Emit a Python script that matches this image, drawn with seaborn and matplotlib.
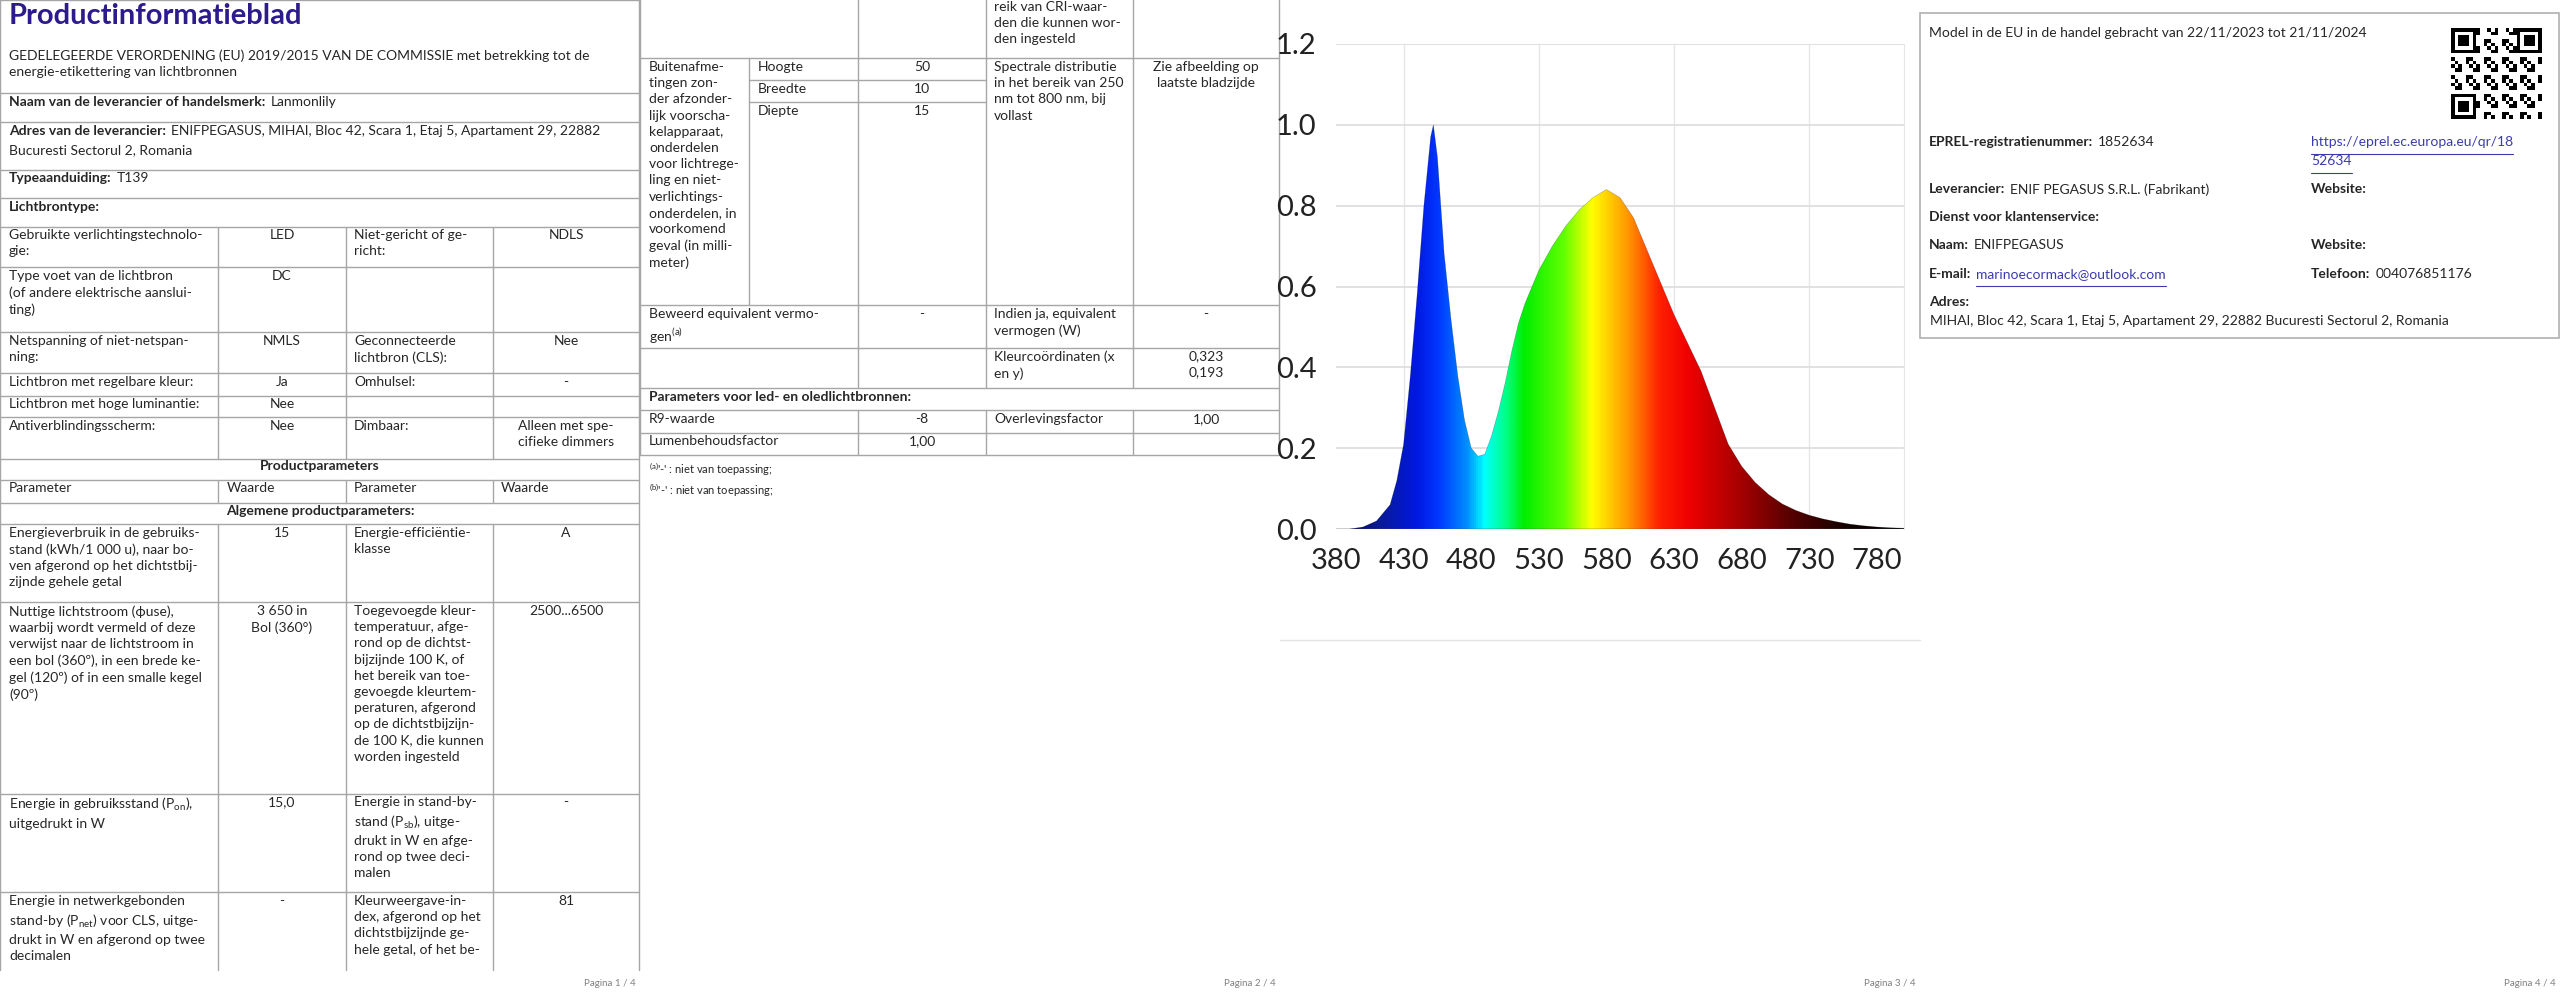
import matplotlib.pyplot as plt
import matplotlib.colors as mcolors
import numpy as np
import seaborn as sns

sns.set_style('white')
plt.rcParams['font.family'] = ['Lato', 'DejaVu Sans']
plt.rcParams['mathtext.fontset'] = 'custom'
plt.rcParams['mathtext.rm'] = 'Lato'

wavelength = [380, 390, 400, 410, 420, 425, 430, 435, 440, 445, 450, 452, 455, 460, 465,
              470, 475, 480, 485, 490, 495, 500, 505, 510, 515, 520, 525, 530, 540, 550,
              560, 570, 580, 590, 600, 610, 620, 630, 640, 650, 660, 670, 680, 690, 700,
              710, 720, 730, 740, 750, 760, 770, 780, 790, 800]
intensity = [0.0, 0.0, 0.005, 0.02, 0.06, 0.12, 0.21, 0.38, 0.58, 0.80, 0.97, 1.0, 0.92, 0.68, 0.52,
             0.38, 0.27, 0.20, 0.18, 0.185, 0.23, 0.29, 0.36, 0.44, 0.51, 0.56, 0.60, 0.64, 0.70, 0.75,
             0.79, 0.82, 0.84, 0.82, 0.77, 0.69, 0.61, 0.53, 0.46, 0.39, 0.30, 0.21, 0.155, 0.115, 0.085,
             0.062, 0.046, 0.034, 0.025, 0.018, 0.012, 0.008, 0.005, 0.003, 0.002]
x_ticks = [380, 430, 480, 530, 580, 630, 680, 730, 780]
y_ticks = [0.0, 0.2, 0.4, 0.6, 0.8, 1.0, 1.2]

# page 1 table
p1_rows = [
    (237, 'Gebruikte verlichtingstechnolo-\ngie:', 'LED', 'Niet-gericht of ge-\nricht:', 'NDLS'),
    (278, 'Type voet van de lichtbron\n(of andere elektrische aanslui-\nting)', 'DC', '', ''),
    (343, 'Netspanning of niet-netspan-\nning:', 'NMLS', 'Geconnecteerde\nlichtbron (CLS):', 'Nee'),
    (384, 'Lichtbron met regelbare kleur:', 'Ja', 'Omhulsel:', '-'),
    (406, 'Lichtbron met hoge luminantie:', 'Nee', '', ''),
    (428, 'Antiverblindingsscherm:', 'Nee', 'Dimbaar:', 'Alleen met spe-\ncifieke dimmers'),
    (535, 'Energieverbruik in de gebruiks-\nstand (kWh/1 000 u), naar bo-\nven afgerond op het dichtstbij-\nzijnde gehele getal',
     '15', 'Energie-efficiëntie-\nklasse', 'A'),
    (613, 'Nuttige lichtstroom (ϕuse),\nwaarbij wordt vermeld of deze\nverwijst naar de lichtstroom in\neen bol (360º), in een brede ke-\ngel (120º) of in een smalle kegel\n(90º)',
     '3 650 in\nBol (360°)',
     'Toegevoegde kleur-\ntemperatuur, afge-\nrond op de dichtst-\nbijzijnde 100 K, of\nhet bereik van toe-\ngevoegde kleurtem-\nperaturen, afgerond\nop de dichtstbijzijn-\nde 100 K, die kunnen\nworden ingesteld',
     '2500...6500'),
    (804, 'Energie in gebruiksstand (P$_{\\rm on}$),\nuitgedrukt in W', '15,0',
     'Energie in stand-by-\nstand (P$_{\\rm sb}$), uitge-\ndrukt in W en afge-\nrond op twee deci-\nmalen', '-'),
    (903, 'Energie in netwerkgebonden\nstand-by (P$_{\\rm net}$) voor CLS, uitge-\ndrukt in W en afgerond op twee\ndecimalen', '-',
     'Kleurweergave-in-\ndex, afgerond op het\ndichtstbijzijnde ge-\nhele getal, of het be-', '81'),
]

# page 2 table
p2_rows = [
    (316, 'Beweerd equivalent vermo-\ngen$^{\\rm (a)}$', '-', 'Indien ja, equivalent\nvermogen (W)', '-'),
    (358, '', '', 'Kleurcoördinaten (x\nen y)', '0,323\n0,193'),
    (421, 'R9-waarde', '-8', 'Overlevingsfactor', '1,00'),
    (443, 'Lumenbehoudsfactor', '1,00', '', ''),
]
dims = [('Hoogte', '50'), ('Breedte', '10'), ('Diepte', '15')]

FS = 10
INK = '#262626'
LINE = '#a6a6a6'
LINK = '#3b3bb0'

fig = plt.figure(figsize=(25.6, 10.01), dpi=100)
bg = fig.add_axes([0, 0, 1, 1])
bg.set_xlim(0, 2560)
bg.set_ylim(1001, 0)
bg.axis('off')
renderer = fig.canvas.get_renderer()


def txt(x, y, s, bold=False, ha='left', size=FS, color=INK, **kw):
    return bg.text(x, y - 0.8 * size, s, ha=ha, va='top', fontsize=size, color=color,
                   fontweight='bold' if bold else 'normal', linespacing=1.42, **kw)


def pair(x, y, label, value, color=INK, underline=False):
    t = txt(x, y, label, bold=True)
    w = t.get_window_extent(renderer).width
    v = txt(x + w + 5, y, value, color=color)
    if underline:
        bb = v.get_window_extent(renderer)
        bg.plot([x + w + 5, x + w + 5 + bb.width], [y + 10, y + 10], color=color, lw=0.8)


def hl(y, x0, x1, c=LINE):
    bg.plot([x0, x1], [y, y], color=c, lw=1)


def vl(x, y0, y1, c=LINE):
    bg.plot([x, x], [y0, y1], color=c, lw=1)


# ---------------- page 1 ----------------
txt(9, 20, 'Productinformatieblad', bold=True, size=21, color='#2d1b8e')
txt(9, 57, 'GEDELEGEERDE VERORDENING (EU) 2019/2015 VAN DE COMMISSIE met betrekking tot de\nenergie-etikettering van lichtbronnen')
pair(9, 104, 'Naam van de leverancier of handelsmerk:', 'Lanmonlily')
pair(9, 133, 'Adres van de leverancier:', 'ENIFPEGASUS, MIHAI, Bloc 42, Scara 1, Etaj 5, Apartament 29, 22882')
txt(9, 152, 'Bucuresti Sectorul 2, Romania')
pair(9, 180, 'Typeaanduiding:', 'T139')
txt(9, 209, 'Lichtbrontype:', bold=True)
for y in [0, 93, 122, 170, 198, 227, 267, 332, 373, 396, 417, 459, 480, 503, 524, 602, 794, 892]:
    hl(y, 0, 639)
vl(0, 0, 970)
vl(639, 0, 970)
for x in [218, 346, 493]:
    vl(x, 227, 459)
    vl(x, 480, 503)
    vl(x, 524, 970)
cols = [(9, 'left'), (282, 'center'), (354, 'left'), (566, 'center')]
for y, *cells in p1_rows:
    for (cx, ha), s in zip(cols, cells):
        txt(cx, y, s, ha=ha)
txt(320, 468, 'Productparameters', bold=True, ha='center')
for cx, s in [(9, 'Parameter'), (227, 'Waarde'), (354, 'Parameter'), (501, 'Waarde')]:
    txt(cx, 490, s)
txt(320, 513, 'Algemene productparameters:', bold=True, ha='center')

# ---------------- page 2 ----------------
o = 640
for y in [58, 305, 348, 388, 410, 433, 455]:
    hl(y, o, o + 639)
for y in [80, 102]:
    hl(y, o + 109, o + 346)
vl(o, 0, 455)
vl(o + 639, 0, 455)
vl(o + 109, 58, 305)
vl(o + 218, 0, 388)
vl(o + 218, 410, 455)
for x in [346, 493]:
    vl(o + x, 0, 388)
    vl(o + x, 410, 455)
txt(o + 354, 9, 'reik van CRI-waar-\nden die kunnen wor-\nden ingesteld')
txt(o + 9, 69, 'Buitenafme-\ntingen zon-\nder afzonder-\nlijk voorscha-\nkelapparaat,\nonderdelen\nvoor lichtrege-\nling en niet-\nverlichtings-\nonderdelen, in\nvoorkomend\ngeval (in milli-\nmeter)')
for i, (name, val) in enumerate(dims):
    txt(o + 118, 69 + 22 * i, name)
    txt(o + 282, 69 + 22 * i, val, ha='center')
txt(o + 354, 69, 'Spectrale distributie\nin het bereik van 250\nnm tot 800 nm, bij\nvollast')
txt(o + 566, 69, 'Zie afbeelding op\nlaatste bladzijde', ha='center')
for y, *cells in p2_rows:
    for (cx, ha), s in zip(cols, cells):
        txt(o + cx, y, s, ha=ha)
txt(o + 9, 399, 'Parameters voor led- en oledlichtbronnen:', bold=True)
txt(o + 9, 467, "$^{\\rm (a)}$'-' : niet van toepassing;", size=8)
txt(o + 9, 488, "$^{\\rm (b)}$'-' : niet van toepassing;", size=8)

# ---------------- page 3: spectrum ----------------
hl(640, 1280, 1920, c='#e3e3e3')
ax = fig.add_axes([1336 / 2560, (1001 - 529) / 1001, 568 / 2560, 485 / 1001])
ax.set_xlim(380, 800)
ax.set_ylim(0, 1.2)
for v in [430, 530, 630, 730]:
    ax.axvline(v, color='#e6e6e6', lw=1, zorder=0)
for v in y_ticks[1:]:
    ax.axhline(v, color='#dcdcdc', lw=1.2, zorder=0)
spec_cmap = mcolors.LinearSegmentedColormap.from_list('spec', [
    (0.00, '#000040'), (0.07, '#0a1a90'), (0.14, '#0018e0'), (0.18, '#0038ff'),
    (0.23, '#0090ff'), (0.26, '#00ffff'), (0.30, '#00ff80'), (0.33, '#00ee00'),
    (0.40, '#60ff00'), (0.45, '#ffff00'), (0.52, '#ff8c00'), (0.57, '#ff2000'),
    (0.62, '#f00000'), (0.71, '#a80000'), (0.81, '#500000'), (0.90, '#140000'),
    (1.00, '#000000')])
grad = np.linspace(380, 800, 600).reshape(1, -1)
im = ax.imshow(grad, extent=[380, 800, 0, 1.2], aspect='auto', cmap=spec_cmap,
               vmin=380, vmax=800, origin='lower', zorder=2)
poly = ax.fill_between(wavelength, 0, intensity, facecolor='none', edgecolor='none', zorder=2)
im.set_clip_path(poly.get_paths()[0], transform=ax.transData)
sns.lineplot(x=wavelength, y=intensity, ax=ax, color='black', lw=0.4, alpha=0.3, zorder=3)
ax.axhline(0, color='#555555', lw=1, zorder=3)
ax.set_xticks(x_ticks)
ax.set_yticks(y_ticks)
ax.set_xticklabels([str(t) for t in x_ticks])
ax.set_yticklabels([f'{t:.1f}' for t in y_ticks])
ax.tick_params(labelsize=21, colors='#222222', length=0, pad=14)
for s in ['left', 'top', 'bottom']:
    ax.spines[s].set_visible(False)
ax.spines['right'].set_color('#e6e6e6')

# ---------------- page 4 ----------------
o = 1920
bg.add_patch(plt.Rectangle((o, 13), 639, 325, fill=False, edgecolor='#b0b0b0', lw=1.2))
txt(o + 9, 35, 'Model in de EU in de handel gebracht van 22/11/2023 tot 21/11/2024')
qi, qj = np.mgrid[0:25, 0:25]
qr = ((qi * 7 + qj * 3 + qi * qj) % 5 < 2).astype(float)
for a, b in [(0, 0), (0, 18), (18, 0)]:
    qr[a:a + 7, b:b + 7] = 1
    qr[a + 1:a + 6, b + 1:b + 6] = 0
    qr[a + 2:a + 5, b + 2:b + 5] = 1
bg.imshow(qr, cmap='gray_r', extent=[2451, 2542, 119, 28], interpolation='nearest', zorder=2)
bg.set_xlim(0, 2560)
bg.set_ylim(1001, 0)
pair(o + 9, 144, 'EPREL-registratienummer:', '1852634')
for y, s in [(144, 'https://eprel.ec.europa.eu/qr/18'), (163, '52634')]:
    t = txt(o + 391, y, s, color=LINK)
    bb = t.get_window_extent(renderer)
    bg.plot([o + 391, o + 391 + bb.width], [y + 10, y + 10], color=LINK, lw=0.8)
pair(o + 9, 191, 'Leverancier:', 'ENIF PEGASUS S.R.L. (Fabrikant)')
txt(o + 391, 191, 'Website:', bold=True)
txt(o + 9, 219, 'Dienst voor klantenservice:', bold=True)
pair(o + 9, 247, 'Naam:', 'ENIFPEGASUS')
txt(o + 391, 247, 'Website:', bold=True)
pair(o + 9, 276, 'E-mail:', 'marinoecormack@outlook.com', color=LINK, underline=True)
pair(o + 391, 276, 'Telefoon:', '004076851176')
txt(o + 9, 304, 'Adres:', bold=True)
txt(o + 10, 323, 'MIHAI, Bloc 42, Scara 1, Etaj 5, Apartament 29, 22882 Bucuresti Sectorul 2, Romania')

for i in range(4):
    txt(640 * (i + 1) - 4, 985, f'Pagina {i + 1} / 4', ha='right', size=7, color='#808080')

fig.savefig('out.png', dpi=100)
